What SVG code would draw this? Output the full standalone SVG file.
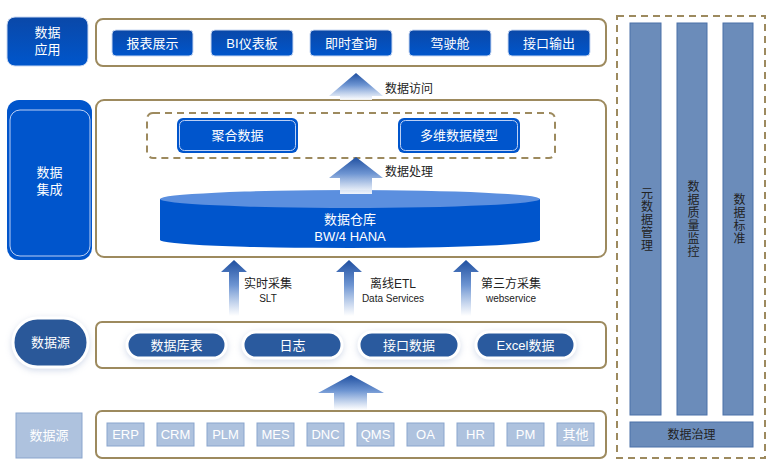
<svg xmlns="http://www.w3.org/2000/svg" width="778" height="471" viewBox="0 0 778 471">
<defs>
<linearGradient id="gBtn" x1="0" y1="0" x2="0" y2="1"><stop offset="0" stop-color="#0a48a8"/><stop offset="1" stop-color="#0056cc"/></linearGradient>
<linearGradient id="gArrow" x1="0" y1="0" x2="0" y2="1"><stop offset="0" stop-color="#1f4fa0"/><stop offset="0.45" stop-color="#6e95d2"/><stop offset="1" stop-color="#ffffff" stop-opacity="0.9"/></linearGradient>
<filter id="glow" x="-30%" y="-40%" width="160%" height="180%"><feDropShadow dx="0" dy="2" stdDeviation="3" flood-color="#9fb0d0" flood-opacity="0.45"/></filter>
</defs>
<style>
text{font-family:"Liberation Sans","Noto Sans CJK SC",sans-serif;}
.ct{fill:#fff;stroke:#9d8a5e;stroke-width:2;}
.btn{fill:url(#gBtn);stroke:#c9d8f2;stroke-width:1;}
.wt{fill:#fff;font-size:13px;text-anchor:middle;}
.dk{fill:#222;font-size:12px;text-anchor:middle;}
.vt{fill:#222;font-size:12px;writing-mode:vertical-rl;text-orientation:upright;letter-spacing:1px;text-anchor:middle;}
.pill{fill:#2a5a9e;stroke:#fff;stroke-width:3;filter:url(#glow);}
.src{fill:#aec2de;stroke:#8aa5cd;stroke-width:1;}
.col{fill:#6b8cba;stroke:#4b70a8;stroke-width:1;}
.arr{fill:url(#gArrow);}
</style>

<g id="app-label"><rect x="7" y="17" width="81" height="49" rx="8" fill="url(#gBtn)" stroke="#c9d8f2"/><text class="wt" x="47.5" y="37">数据</text><text class="wt" x="47.5" y="54">应用</text></g>
<g id="app-layer">
<rect class="ct" x="96" y="19" width="510" height="47" rx="7"/>
<g id="btn1"><rect class="btn" x="112" y="30" width="81" height="26" rx="4"/><text class="wt" x="152.5" y="48">报表展示</text></g>
<g id="btn2"><rect class="btn" x="211" y="30" width="82" height="26" rx="4"/><text class="wt" x="252" y="48">BI仪表板</text></g>
<g id="btn3"><rect class="btn" x="310" y="30" width="82" height="26" rx="4"/><text class="wt" x="351" y="48">即时查询</text></g>
<g id="btn4"><rect class="btn" x="409" y="30" width="82" height="26" rx="4"/><text class="wt" x="450" y="48">驾驶舱</text></g>
<g id="btn5"><rect class="btn" x="508" y="30" width="82" height="26" rx="4"/><text class="wt" x="549" y="48">接口输出</text></g>
</g>

<g id="int-label"><rect x="7" y="100" width="85" height="160" rx="12" fill="#0055cc"/><rect x="10" y="110" width="80" height="146" rx="10" fill="none" stroke="#bcd0f5" stroke-width="1"/><text class="wt" x="49.5" y="177">数据</text><text class="wt" x="49.5" y="194">集成</text></g>
<g id="int-layer">
<rect class="ct" x="96" y="100" width="510" height="157" rx="8"/>
<rect x="147" y="113" width="408" height="45" rx="6" fill="none" stroke="#9d8a5e" stroke-width="2" stroke-dasharray="7,5"/>
<g id="agg"><rect x="177" y="118" width="121" height="35" rx="6" fill="#0055cc"/><rect x="179.5" y="120.5" width="116" height="30" rx="5" fill="none" stroke="#bcd0f5"/><text class="wt" x="237.5" y="140">聚合数据</text></g>
<g id="cube"><rect x="398" y="118" width="122" height="35" rx="6" fill="#0055cc"/><rect x="400.5" y="120.5" width="117" height="30" rx="5" fill="none" stroke="#bcd0f5"/><text class="wt" x="459" y="140">多维数据模型</text></g>
<g id="dw">
<path d="M160,199 L160,240 A190,8 0 0 0 540,240 L540,199 Z" fill="#0055cc"/>
<ellipse cx="350" cy="199" rx="190" ry="9" fill="#5b8fdf"/>
<text class="wt" x="350" y="224">数据仓库</text><text class="wt" x="350" y="241">BW/4 HANA</text>
</g>
</g>

<g id="src-label"><rect x="13" y="318" width="75" height="49" rx="24.5" fill="#2a5899" stroke="#fff" stroke-width="3" filter="url(#glow)"/><text class="wt" x="50.5" y="347">数据源</text></g>
<g id="src-layer">
<rect class="ct" x="96" y="322" width="510" height="46" rx="6"/>
<g id="p1"><rect class="pill" x="127" y="332" width="99" height="26" rx="13"/><text class="wt" x="176.5" y="350">数据库表</text></g>
<g id="p2"><rect class="pill" x="243" y="332" width="99" height="26" rx="13"/><text class="wt" x="292.5" y="350">日志</text></g>
<g id="p3"><rect class="pill" x="359" y="332" width="100" height="26" rx="13"/><text class="wt" x="409" y="350">接口数据</text></g>
<g id="p4"><rect class="pill" x="476" y="332" width="99" height="26" rx="13"/><text class="wt" x="525.5" y="350">Excel数据</text></g>
</g>

<g id="sys-label"><rect class="src" x="16" y="413" width="66" height="45"/><text class="wt" x="49" y="440">数据源</text></g>
<g id="sys-layer">
<rect class="ct" x="96" y="411" width="510" height="47" rx="6"/>
<g id="s1"><rect class="src" x="107" y="423" width="37" height="23"/><text class="wt" x="125.5" y="439">ERP</text></g>
<g id="s2"><rect class="src" x="157" y="423" width="37" height="23"/><text class="wt" x="175.5" y="439">CRM</text></g>
<g id="s3"><rect class="src" x="207" y="423" width="37" height="23"/><text class="wt" x="225.5" y="439">PLM</text></g>
<g id="s4"><rect class="src" x="257" y="423" width="37" height="23"/><text class="wt" x="275.5" y="439">MES</text></g>
<g id="s5"><rect class="src" x="307" y="423" width="37" height="23"/><text class="wt" x="325.5" y="439">DNC</text></g>
<g id="s6"><rect class="src" x="357" y="423" width="37" height="23"/><text class="wt" x="375.5" y="439">QMS</text></g>
<g id="s7"><rect class="src" x="407" y="423" width="37" height="23"/><text class="wt" x="425.5" y="439">OA</text></g>
<g id="s8"><rect class="src" x="457" y="423" width="37" height="23"/><text class="wt" x="475.5" y="439">HR</text></g>
<g id="s9"><rect class="src" x="507" y="423" width="37" height="23"/><text class="wt" x="525.5" y="439">PM</text></g>
<g id="s10"><rect class="src" x="557" y="423" width="37" height="23"/><text class="wt" x="575.5" y="439">其他</text></g>
</g>

<g id="governance">
<rect x="617" y="16" width="148" height="442" fill="none" stroke="#9d8a5e" stroke-width="2" stroke-dasharray="7,5"/>
<g id="g1"><rect class="col" x="630" y="23" width="31" height="392"/><text class="vt" x="645.5" y="220">元数据管理</text></g>
<g id="g2"><rect class="col" x="677" y="23" width="30" height="392"/><text class="vt" x="692" y="219">数据质量监控</text></g>
<g id="g3"><rect class="col" x="723" y="23" width="30" height="392"/><text class="vt" x="738" y="219">数据标准</text></g>
<g id="g4"><rect class="col" x="630" y="422" width="123" height="25"/><text class="dk" x="691.5" y="439">数据治理</text></g>
</g>

<g id="connectors">
<path class="arr" d="M356,73 L383,96 L372,96 L372,100 L340,100 L340,96 L329,96 Z"/>
<text x="385" y="93" font-size="12" fill="#222">数据访问</text>
<path class="arr" d="M356,157 L383,178 L372,178 L372,194 L340,194 L340,178 L329,178 Z"/>
<text x="385" y="176" font-size="12" fill="#222">数据处理</text>
<path class="arr" d="M234,260 L247,272 L239,272 L239,316 L229,316 L229,272 L221,272 Z"/>
<text x="268" y="288" font-size="12" fill="#222" text-anchor="middle">实时采集</text>
<text x="268" y="302" font-size="10" fill="#222" text-anchor="middle">SLT</text>
<path class="arr" d="M349,260 L362,272 L354,272 L354,316 L344,316 L344,272 L336,272 Z"/>
<text x="393" y="288" font-size="12" fill="#222" text-anchor="middle">离线ETL</text>
<text x="393" y="302" font-size="10" fill="#222" text-anchor="middle">Data Services</text>
<path class="arr" d="M466,260 L479,272 L471,272 L471,316 L461,316 L461,272 L453,272 Z"/>
<text x="511" y="288" font-size="12" fill="#222" text-anchor="middle">第三方采集</text>
<text x="511" y="302" font-size="10" fill="#222" text-anchor="middle">webservice</text>
<path class="arr" d="M351,375 L384,393 L367,393 L367,410 L334,410 L334,393 L318,393 Z"/>
</g>
</svg>
